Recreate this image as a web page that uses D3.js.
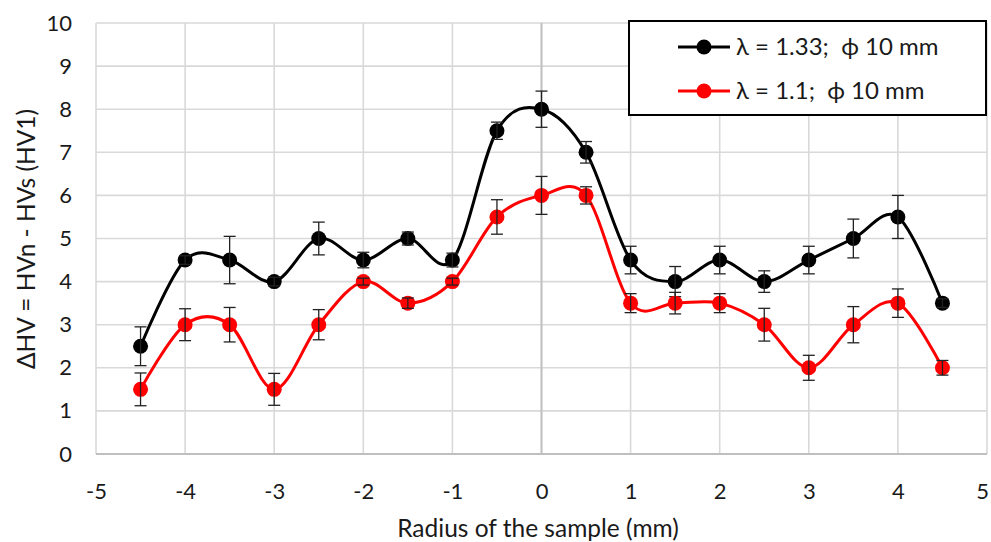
<!DOCTYPE html>
<html>
<head>
<meta charset="utf-8">
<script src="https://cdn.jsdelivr.net/npm/d3@7"></script>
<style>
  html, body { margin: 0; padding: 0; background: #fff; }
  svg { display: block; font-family: Lato, "Open Sans", sans-serif; }
  text { white-space: pre; }
</style>
</head>
<body>
<svg id="chart" width="991" height="542"></svg>
<script>
// Radial positions of the hardness measurements (mm)
const radius = [-4.5, -4, -3.5, -3, -2.5, -2, -1.5, -1, -0.5, 0, 0.5, 1, 1.5, 2, 2.5, 3, 3.5, 4, 4.5];

// ΔHV for λ = 1.33 and its error half-widths
const hvHigh = [2.5, 4.5, 4.5, 4, 5, 4.5, 5, 4.5, 7.5, 8, 7, 4.5, 4, 4.5, 4, 4.5, 5, 5.5, 3.5];
const errHigh = [0.45, 0.1, 0.55, 0.1, 0.38, 0.18, 0.15, 0.16, 0.2, 0.42, 0.25, 0.32, 0.35, 0.32, 0.25, 0.32, 0.45, 0.5, 0.1];

// ΔHV for λ = 1.1 and its error half-widths
const hvLow = [1.5, 3, 3, 1.5, 3, 4, 3.5, 4, 5.5, 6, 6, 3.5, 3.5, 3.5, 3, 2, 3, 3.5, 2];
const errLow = [0.38, 0.37, 0.4, 0.37, 0.35, 0.08, 0.12, 0.08, 0.4, 0.44, 0.2, 0.22, 0.25, 0.22, 0.38, 0.29, 0.42, 0.33, 0.17];

const xTicks = [-5, -4, -3, -2, -1, 0, 1, 2, 3, 4, 5];
const yTicks = [0, 1, 2, 3, 4, 5, 6, 7, 8, 9, 10];

const seriesNames = ["λ = 1.33;  ϕ 10 mm", "λ = 1.1;  ϕ 10 mm"];
const seriesColors = ["#000000", "#ff0000"];

const series = [
  { name: seriesNames[0], color: seriesColors[0], values: hvHigh, errs: errHigh },
  { name: seriesNames[1], color: seriesColors[1], values: hvLow, errs: errLow }
];

const svg = d3.select("#chart");
const plotLeft = 96, plotRight = 987, plotTop = 23, plotBottom = 454;

const x = d3.scaleLinear().domain([-5, 5]).range([plotLeft, plotRight]);
const y = d3.scaleLinear().domain([0, 10]).range([plotBottom, plotTop]);

// Gridlines
const grid = svg.append("g").attr("stroke", "#d9d9d9").attr("stroke-width", 1.6);
grid.selectAll("line.h").data(yTicks).join("line").attr("class", "h")
  .attr("x1", plotLeft).attr("x2", plotRight)
  .attr("y1", d => y(d)).attr("y2", d => y(d));
grid.selectAll("line.v").data(xTicks).join("line").attr("class", "v")
  .attr("y1", plotTop).attr("y2", plotBottom)
  .attr("x1", d => x(d)).attr("x2", d => x(d));

// Axis lines (x axis at y=0, y axis crossing at x=0)
svg.append("line").attr("x1", plotLeft).attr("x2", plotRight).attr("y1", y(0)).attr("y2", y(0))
  .attr("stroke", "#bfbfbf").attr("stroke-width", 1.8);
svg.append("line").attr("x1", x(0)).attr("x2", x(0)).attr("y1", plotTop).attr("y2", plotBottom)
  .attr("stroke", "#bfbfbf").attr("stroke-width", 1.8);

// Axis tick labels (plain hyphen for negatives)
const fmt = d => String(d);
const yAxis = d3.axisLeft(y).tickValues(yTicks).tickSize(0).tickPadding(24).tickFormat(fmt);
const gy = svg.append("g").attr("transform", `translate(${plotLeft},0)`).call(yAxis);
gy.select(".domain").remove();
gy.selectAll("text").attr("font-size", 22).attr("font-family", "Lato").attr("fill", "#1a1a1a");

const xAxis = d3.axisBottom(x).tickValues(xTicks).tickSize(0).tickPadding(29).tickFormat(fmt);
const gx = svg.append("g").attr("transform", `translate(0,${plotBottom})`).call(xAxis);
gx.select(".domain").remove();
gx.selectAll("text").attr("font-size", 22).attr("font-family", "Lato").attr("fill", "#1a1a1a");
// keep the last label inside the page edge
gx.selectAll(".tick").filter(d => d === xTicks[xTicks.length - 1])
  .select("text").attr("dx", -5);

// Axis titles
svg.append("text").attr("x", 538).attr("y", 537)
  .attr("text-anchor", "middle").attr("font-size", 24.5).attr("fill", "#1a1a1a")
  .text("Radius of the sample (mm)");
svg.append("text").attr("transform", "translate(26,239) rotate(-90)")
  .attr("text-anchor", "middle").attr("dy", "0.35em").attr("font-size", 24.5).attr("fill", "#1a1a1a")
  .text("ΔHV = HVn - HVs (HV1)");

const line = d3.line()
  .x((d, i) => x(radius[i]))
  .y(d => y(d))
  .curve(d3.curveCardinal.tension(0));

series.forEach(s => {
  const g = svg.append("g");
  g.append("path").attr("d", line(s.values))
    .attr("fill", "none").attr("stroke", s.color).attr("stroke-width", 3);
  g.selectAll("circle").data(s.values).join("circle")
    .attr("cx", (d, i) => x(radius[i])).attr("cy", d => y(d)).attr("r", 7.5)
    .attr("fill", s.color);
  // error bars
  const eb = g.append("g").attr("stroke", "#222").attr("stroke-width", 1.3);
  s.values.forEach((v, i) => {
    const cx = x(radius[i]);
    const y1 = y(v + s.errs[i]), y2 = y(v - s.errs[i]);
    eb.append("line").attr("x1", cx).attr("x2", cx).attr("y1", y1).attr("y2", y2);
    eb.append("line").attr("x1", cx - 6).attr("x2", cx + 6).attr("y1", y1).attr("y2", y1);
    eb.append("line").attr("x1", cx - 6).attr("x2", cx + 6).attr("y1", y2).attr("y2", y2);
  });
});

// Legend
const lg = svg.append("g");
lg.append("rect").attr("x", 629).attr("y", 21).attr("width", 357).attr("height", 94)
  .attr("fill", "#fff").attr("stroke", "#000").attr("stroke-width", 2);
series.forEach((s, i) => {
  const ly = 47 + i * 44;
  lg.append("line").attr("x1", 678).attr("x2", 730).attr("y1", ly).attr("y2", ly)
    .attr("stroke", s.color).attr("stroke-width", 3);
  lg.append("circle").attr("cx", 704).attr("cy", ly).attr("r", 7.5).attr("fill", s.color);
  lg.append("text").attr("x", 736).attr("y", ly).attr("dy", "0.35em")
    .attr("font-size", 24).attr("fill", "#1a1a1a").text(s.name);
});
</script>
</body>
</html>
